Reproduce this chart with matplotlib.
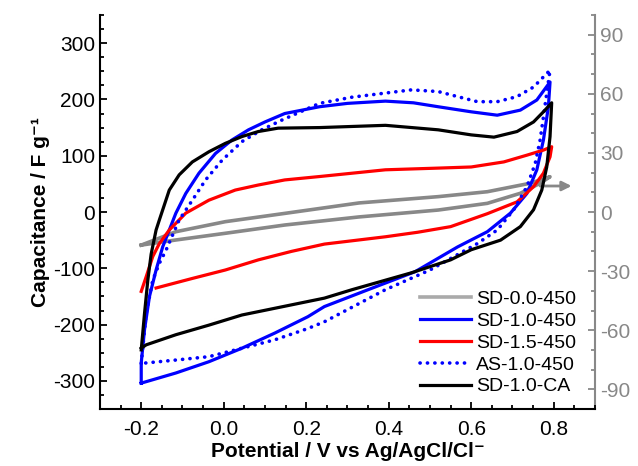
import numpy as np
import matplotlib.pyplot as plt
from matplotlib.ticker import MultipleLocator

plt.rcParams['font.family'] = ['Liberation Sans', 'DejaVu Sans']

# CV loops: forward (anodic) branch, then reverse (cathodic) branch
# SD-1.0-450
blue_x = [-0.2, -0.2, -0.192, -0.18, -0.164, -0.148, -0.132, -0.116, -0.092, -0.06, -0.02, 0.02, 0.06, 0.1, 0.148,
          0.232, 0.3, 0.392, 0.46, 0.52, 0.6, 0.663, 0.719, 0.759, 0.791,
          0.787, 0.775, 0.759, 0.735, 0.695, 0.639, 0.567, 0.464, 0.35, 0.244, 0.204, 0.124, 0.044, -0.036, -0.116, -0.2]
blue_y = [-304, -268, -209, -150, -103, -62, -32, -2, 33, 69, 104, 128, 146, 160, 175,
          187, 193, 197, 194, 187, 178, 172, 181, 199, 231,
          187, 128, 75, 33, -2, -35, -62, -106, -138, -168, -186, -215, -242, -266, -286, -304]

# AS-1.0-450
dot_x = [-0.2, -0.188, -0.172, -0.156, -0.14, -0.108, -0.076, -0.044, -0.004, 0.044, 0.092, 0.14, 0.232, 0.311, 0.455,
         0.52, 0.567, 0.615, 0.663, 0.711, 0.751, 0.775, 0.791,
         0.783, 0.775, 0.767, 0.755, 0.735, 0.703, 0.663, 0.615, 0.5, 0.392, 0.244, 0.204, 0.124, 0.044, -0.036, -0.116, -0.2]
dot_y = [-269, -180, -121, -91, -68, -14, 21, 57, 92, 125, 146, 163, 193, 204, 217,
         214, 205, 196, 196, 205, 222, 240, 252,
         211, 169, 128, 86, 45, 4, -32, -56, -103, -138, -195, -207, -227, -242, -257, -263, -269]

# SD-1.0-CA
blk_x = [-0.2, -0.192, -0.184, -0.176, -0.164, -0.156, -0.132, -0.108, -0.076, -0.036, 0.004, 0.044, 0.084, 0.132,
         0.232, 0.392, 0.52, 0.6, 0.655, 0.711, 0.751, 0.775,
         0.795, 0.791, 0.783, 0.771, 0.751, 0.719, 0.671, 0.6, 0.55, 0.455, 0.311, 0.244, 0.204, 0.124, 0.044, -0.036, -0.116, -0.188, -0.2]
blk_y = [-245, -180, -121, -75, -32, -14, 39, 66, 89, 107, 122, 134, 143, 149,
         150, 154, 146, 137, 133, 143, 160, 178,
         194, 134, 80, 39, 4, -26, -50, -67, -85, -108, -138, -153, -159, -171, -183, -201, -218, -236, -242]

# SD-1.5-450
red_x = [-0.2, -0.188, -0.172, -0.156, -0.132, -0.092, -0.036, 0.028, 0.084, 0.148, 0.232, 0.392,
         0.52, 0.6, 0.679, 0.735, 0.775, 0.795,
         0.791, 0.775, 0.751, 0.711, 0.639, 0.55, 0.47, 0.392, 0.244, 0.164, 0.084, 0.004, -0.076, -0.164]
red_y = [-141, -115, -79, -56, -32, -2, 21, 39, 48, 57, 63, 75,
         78, 80, 89, 101, 110, 116,
         98, 69, 45, 18, -3, -26, -36, -44, -57, -70, -85, -103, -118, -135]

# SD-0.0-450 (right axis)
gray_x = [-0.2, -0.116, 0.004, 0.148, 0.328, 0.52, 0.639, 0.743, 0.791,
          0.767, 0.719, 0.639, 0.52, 0.328, 0.148, 0.004, -0.116, -0.2]
gray_y = [-16.8, -10.0, -4.9, -0.7, 4.6, 7.8, 10.3, 14.6, 17.9,
          14.6, 9.5, 4.4, 1.0, -2.5, -6.6, -10.8, -14.2, -16.8]

fig = plt.figure(figsize=(6.38, 4.66), dpi=100)
ax = fig.add_axes([0.1567, 0.1223, 0.7759, 0.8455])
ax2 = ax.twinx()

ax.plot(blue_x, blue_y, color='#0000ff', lw=2.3, label='SD-1.0-450', zorder=3)
ax.plot(red_x, red_y, color='#ff0000', lw=2.3, label='SD-1.5-450', zorder=3)
ax.plot(dot_x, dot_y, color='#0000ff', lw=2.6, linestyle=(0, (0.05, 2.0)),
        dash_capstyle='round', label='AS-1.0-450', zorder=3)
ax.plot(blk_x, blk_y, color='black', lw=2.3, label='SD-1.0-CA', zorder=3)
ax2.plot(gray_x, gray_y, color='#888888', lw=2.6, label='SD-0.0-450')
ax2.annotate('', xy=(0.85, 13.2), xytext=(0.76, 13.2),
             arrowprops=dict(arrowstyle='-|>', color='#888888', lw=2, mutation_scale=14))

ax.set_xlim(-0.3, 0.9)
ax.set_ylim(-350, 350)
ax2.set_ylim(-100, 100)

ax.xaxis.set_minor_locator(MultipleLocator(0.05))
ax.yaxis.set_major_locator(MultipleLocator(100))
ax.yaxis.set_minor_locator(MultipleLocator(25))
ax2.yaxis.set_major_locator(MultipleLocator(30))
ax2.yaxis.set_minor_locator(MultipleLocator(10))

ax.set_xticks([-0.2, 0.0, 0.2, 0.4, 0.6, 0.8])
ax.set_xticklabels(['-0.2', '0.0', '0.2', '0.4', '0.6', '0.8'])
ax.set_yticks([-300, -200, -100, 0, 100, 200, 300])
ax.set_yticklabels(['-300', '-200', '-100', '0', '100', '200', '300'])
ax2.set_yticks([-90, -60, -30, 0, 30, 60, 90])
ax2.set_yticklabels(['-90', '-60', '-30', '0', '30', '60', '90'])

for a in (ax, ax2):
    a.spines['top'].set_visible(False)
ax.spines['right'].set_visible(False)
ax2.spines['left'].set_visible(False)
ax2.spines['bottom'].set_visible(False)
ax.spines['left'].set_linewidth(1.5)
ax.spines['bottom'].set_linewidth(1.5)
ax2.spines['right'].set_linewidth(1.5)
ax2.spines['right'].set_color('#888888')

ax.tick_params(which='both', direction='in', labelsize=15, width=1.3)
ax.tick_params(which='major', length=5)
ax.tick_params(which='minor', length=3)
ax.tick_params(axis='x', pad=8)
ax2.tick_params(which='both', direction='in', labelsize=15, width=1.3,
                colors='#888888', labelcolor='#888888')
ax2.tick_params(which='major', length=5)
ax2.tick_params(which='minor', length=3)

ax.set_xlabel('Potential / V vs Ag/AgCl/Cl⁻', fontsize=15, fontweight='bold', labelpad=2)
ax.set_ylabel('Capacitance / F g⁻¹', fontsize=15, fontweight='bold', labelpad=2)

h1, l1 = ax.get_legend_handles_labels()
h2, l2 = ax2.get_legend_handles_labels()
leg = ax.legend(h2 + h1, l2 + l1, loc='lower right', bbox_to_anchor=(0.99, 0.0), frameon=False,
                fontsize=14, handlelength=2.6, handletextpad=0.3, labelspacing=0.22, borderaxespad=0.3)
leg.get_lines()[0].set_color('#aaaaaa')
ax2.set_zorder(ax.get_zorder() - 1)
ax.patch.set_visible(False)

fig.savefig('out.png', dpi=100)
